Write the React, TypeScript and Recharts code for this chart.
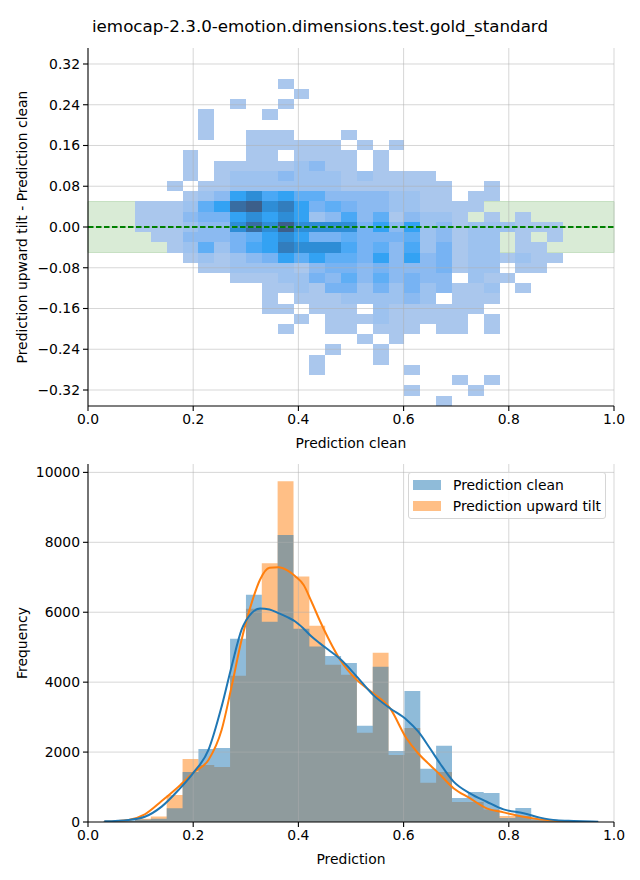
import React from 'react';
import {
  ComposedChart,
  XAxis,
  YAxis,
  ReferenceArea,
  ReferenceLine,
  Line,
  Area,
  Legend,
} from 'recharts';

// ---------------------------------------------------------------------------
// Data
// ---------------------------------------------------------------------------

const TITLE = 'iemocap-2.3.0-emotion.dimensions.test.gold_standard';
const FONT = '"DejaVu Sans", "Liberation Sans", sans-serif';

// histogram bin edges on the prediction axis (shared by both panels)
const binEdges = [
  0.0291, 0.0592, 0.0894, 0.1195, 0.1496, 0.1798, 0.2099, 0.24, 0.2701, 0.3003,
  0.3304, 0.3605, 0.3907, 0.4208, 0.4509, 0.4811, 0.5112, 0.5413, 0.5714, 0.6016,
  0.6317, 0.6618, 0.692, 0.7221, 0.7522, 0.7824, 0.8125, 0.8426, 0.8727, 0.9029,
  0.933, 0.9631,
];

// bin edges on the difference axis (bottom to top)
const diffEdges = [
  -0.351, -0.3309, -0.3109, -0.2908, -0.2708, -0.2507, -0.2306, -0.2106, -0.1905,
  -0.1705, -0.1504, -0.1303, -0.1103, -0.0902, -0.0702, -0.0501, -0.03, -0.01,
  0.0101, 0.0301, 0.0502, 0.0703, 0.0903, 0.1104, 0.1304, 0.1505, 0.1706, 0.1906,
  0.2107, 0.2307, 0.2508, 0.2708, 0.2909,
];

// 2d histogram, top row first. each row: [first column, count levels]
// columns start at binEdges[2]; '.' = empty, 1..9 a b = increasing count
const heatRows: [number, string][][] = [
  [[9, '1']],
  [[10, '1']],
  [[6, '1'], [9, '1']],
  [[4, '1'], [8, '1']],
  [[4, '1']],
  [[4, '1'], [7, '111'], [13, '1']],
  [[7, '111111'], [14, '1'], [16, '1']],
  [[3, '1'], [7, '11'], [10, '1111'], [15, '1']],
  [[3, '1'], [5, '111112311'], [15, '1']],
  [[3, '1'], [5, '12223222121111']],
  [[2, '1'], [4, '112222222'], [13, '1111111'], [22, '1']],
  [[3, '12378675533332211'], [21, '11']],
  [[0, '111257ab89745433221111']],
  [[0, '111344787872363513221'], [22, '1'], [24, '1']],
  [[0, '1112338a8b88884737231222111']],
  [[1, '1133345787445444523122'], [24, '1'], [26, '1']],
  [[2, '125246798886453624122'], [24, '11']],
  [[3, '121234757554737341221211']],
  [[4, '1122221344343334122'], [24, '11']],
  [[6, '11122435353433'], [21, '211']],
  [[8, '112144242423112'], [24, '1']],
  [[8, '1'], [10, '111222232'], [20, '111']],
  [[8, '11'], [11, '111'], [15, '2111111']],
  [[10, '1'], [12, '111211111'], [22, '1']],
  [[9, '1'], [12, '11'], [15, '111'], [19, '11'], [22, '1']],
  [[14, '1'], [16, '1']],
  [[12, '1'], [15, '1']],
  [[11, '1'], [15, '1']],
  [[11, '1'], [17, '1']],
  [[20, '1'], [22, '1']],
  [[17, '1'], [21, '1']],
  [[19, '1']],
];

const levelColors: Record<string, string> = {
  '1': '#aac7ed',
  '2': '#9dc2ef',
  '3': '#8bbaf1',
  '4': '#77b3f3',
  '5': '#5faef5',
  '6': '#4aa8f5',
  '7': '#33a2f3',
  '8': '#2e8dd6',
  '9': '#327dbd',
  a: '#386da2',
  b: '#3c5f8a',
};

// tolerance band and zero line of the top panel
const bandLimits = [-0.05, 0.05];
const zeroLine = [
  { x: 0, y: 0 },
  { x: 1, y: 0 },
];

// 1d histograms, one count per bin
const cleanCounts = [
  20, 40, 70, 90, 390, 1430, 2090, 2120, 5240, 6500, 5730, 8210, 5525, 5020, 4750,
  4550, 2750, 4440, 2030, 3750, 1520, 2180, 690, 860, 830, 115, 400, 90, 50, 20, 12,
];
const tiltCounts = [
  10, 30, 90, 160, 770, 1800, 1630, 1575, 4180, 6100, 7400, 9750, 7020, 5610, 4495,
  4210, 2550, 4840, 1920, 2690, 1120, 1430, 575, 575, 360, 170, 170, 60, 30, 15, 8,
];

// kernel density curves (scaled to counts)
const kdeX = [
  0.031, 0.077, 0.108, 0.14, 0.172, 0.201, 0.229, 0.254, 0.273, 0.292, 0.311, 0.327,
  0.345, 0.362, 0.379, 0.394, 0.41, 0.425, 0.441, 0.457, 0.479, 0.511, 0.542, 0.574,
  0.606, 0.628, 0.65, 0.669, 0.695, 0.726, 0.758, 0.79, 0.828, 0.859, 0.891, 0.923,
  0.97,
];
const kdeClean = [
  20, 60, 150, 440, 915, 1420, 2060, 3300, 4450, 5500, 5975, 6110, 6080, 5975, 5860,
  5735, 5530, 5305, 5110, 4925, 4667, 4160, 3636, 3255, 2920, 2585, 2110, 1680, 1155,
  820, 580, 360, 250, 125, 48, 30, 10,
];
const kdeTilt = [
  10, 60, 220, 600, 1010, 1420, 1775, 2630, 3875, 5210, 6260, 6930, 7270, 7290, 7200,
  7030, 6780, 6300, 5750, 5250, 4650, 4065, 3685, 3255, 2380, 1960, 1630, 1360, 965,
  680, 390, 275, 150, 75, 30, 10, 3,
];

const xTicks = [0, 0.2, 0.4, 0.6, 0.8, 1.0];
const diffTicks = [-0.32, -0.24, -0.16, -0.08, 0, 0.08, 0.16, 0.24, 0.32];
const freqTicks = [0, 2000, 4000, 6000, 8000, 10000];

const legendItems = [
  { name: 'Prediction clean', color: '#8fbbd9' },
  { name: 'Prediction upward tilt', color: '#ffbf86' },
];

// ---------------------------------------------------------------------------
// Helpers
// ---------------------------------------------------------------------------

const BLUE = '#1f77b4';
const ORANGE = '#ff7f0e';
const GRID = { stroke: '#b0b0b0', strokeOpacity: 0.5, strokeWidth: 1 };

const tickStyle = { fill: '#000', fontSize: 13.9, fontFamily: FONT };
const axisStyle = { stroke: '#000', strokeWidth: 1.1 };
const labelStyle = { fill: '#000', fontSize: 13.9, fontFamily: FONT, textAnchor: 'middle' as const };

function formatDiff(v: number): string {
  if (Math.abs(v) < 1e-9) return '0.00';
  return (v < 0 ? '\u2212' : '') + Math.abs(v).toFixed(2);
}

const heatCells = heatRows.flatMap((segments, i) => {
  const row = diffEdges.length - 2 - i;
  return segments.flatMap(([start, levels]) =>
    levels
      .split('')
      .map((lv, j) => ({ col: start + j, row, lv }))
      .filter((c) => c.lv !== '.'),
  );
});

const histClean = binEdges.map((x, k) => ({ x, v: k < cleanCounts.length ? cleanCounts[k] : 0 }));
const histTilt = binEdges.map((x, k) => ({ x, v: k < tiltCounts.length ? tiltCounts[k] : 0 }));
const kdeCleanData = kdeX.map((x, i) => ({ x, v: kdeClean[i] }));
const kdeTiltData = kdeX.map((x, i) => ({ x, v: kdeTilt[i] }));

const HistLegend = () => (
  <div
    style={{
      boxSizing: 'border-box',
      width: 198,
      border: '1px solid #d6d6d6',
      borderRadius: 3,
      background: 'rgba(255,255,255,0.8)',
      padding: '1px 4px 2px 4px',
      fontFamily: FONT,
      fontSize: 13.9,
      color: '#000',
    }}
  >
    {legendItems.map((item) => (
      <div key={item.name} style={{ display: 'flex', alignItems: 'center', height: 21 }}>
        <span style={{ display: 'inline-block', width: 28, height: 10, background: item.color, marginRight: 12 }} />
        <span style={{ whiteSpace: 'nowrap' }}>{item.name}</span>
      </div>
    ))}
  </div>
);

// ---------------------------------------------------------------------------
// Main component
// ---------------------------------------------------------------------------

export default function App() {
  return (
    <div style={{ position: 'absolute', left: 0, top: 0, width: 640, height: 880, background: '#fff' }}>
      <div
        style={{
          position: 'absolute',
          left: 0,
          top: 16,
          width: 640,
          textAlign: 'center',
          fontFamily: FONT,
          fontSize: 16.7,
          lineHeight: '20px',
          color: '#000',
        }}
      >
        {TITLE}
      </div>

      {/* Top: 2d histogram of prediction difference */}
      <div style={{ position: 'absolute', left: 0, top: 0 }}>
        <ComposedChart width={640} height={456} margin={{ top: 48, right: 26, bottom: 0, left: 0 }}>
          <XAxis
            dataKey="x"
            type="number"
            domain={[0, 1]}
            allowDataOverflow
            ticks={xTicks}
            interval={0}
            tickFormatter={(v: number) => v.toFixed(1)}
            height={50}
            tickSize={5}
            tickMargin={3}
            tick={tickStyle}
            axisLine={axisStyle}
            tickLine={axisStyle}
            label={{ value: 'Prediction clean', position: 'insideBottom', offset: 8, style: labelStyle }}
          />
          <YAxis
            dataKey="y"
            type="number"
            domain={[-0.3514, 0.3514]}
            allowDataOverflow
            ticks={diffTicks}
            interval={0}
            tickFormatter={formatDiff}
            width={88}
            tickSize={5}
            tickMargin={3}
            tick={tickStyle}
            axisLine={axisStyle}
            tickLine={axisStyle}
            label={{
              value: 'Prediction upward tilt - Prediction clean',
              angle: -90,
              position: 'insideLeft',
              offset: 22,
              style: labelStyle,
            }}
          />
          <ReferenceArea
            x1={0}
            x2={1}
            y1={bandLimits[0]}
            y2={bandLimits[1]}
            fill="#d9ebd6"
            fillOpacity={1}
            stroke="#c6e0c2"
            strokeWidth={1}
          />
          {heatCells.map((c) => (
            <ReferenceArea
              key={`cell-${c.row}-${c.col}`}
              x1={binEdges[c.col + 2]}
              x2={binEdges[c.col + 3]}
              y1={diffEdges[c.row]}
              y2={diffEdges[c.row + 1]}
              fill={levelColors[c.lv]}
              fillOpacity={1}
              stroke="none"
              shapeRendering="crispEdges"
            />
          ))}
          {xTicks.slice(1).map((t) => (
            <ReferenceLine key={`gx-${t}`} x={t} {...GRID} />
          ))}
          {diffTicks.map((t) => (
            <ReferenceLine key={`gy-${t}`} y={t} {...GRID} />
          ))}
          <Line
            data={zeroLine}
            dataKey="y"
            stroke="#008000"
            strokeWidth={2}
            strokeDasharray="5.5 2.5"
            dot={false}
            activeDot={false}
            isAnimationActive={false}
          />
        </ComposedChart>
      </div>

      {/* Bottom: 1d histograms with kde */}
      <div style={{ position: 'absolute', left: 0, top: 456 }}>
        <ComposedChart width={640} height={424} margin={{ top: 8, right: 26, bottom: 0, left: 0 }}>
          <XAxis
            dataKey="x"
            type="number"
            domain={[0, 1]}
            allowDataOverflow
            ticks={xTicks}
            interval={0}
            tickFormatter={(v: number) => v.toFixed(1)}
            height={58}
            tickSize={5}
            tickMargin={3}
            tick={tickStyle}
            axisLine={axisStyle}
            tickLine={axisStyle}
            label={{ value: 'Prediction', position: 'insideBottom', offset: 16, style: labelStyle }}
          />
          <YAxis
            type="number"
            domain={[0, 10240]}
            allowDataOverflow
            ticks={freqTicks}
            interval={0}
            width={88}
            tickSize={5}
            tickMargin={3}
            tick={tickStyle}
            axisLine={axisStyle}
            tickLine={axisStyle}
            label={{ value: 'Frequency', angle: -90, position: 'insideLeft', offset: 22, style: labelStyle }}
          />
          <Area
            data={histTilt}
            dataKey="v"
            type="stepAfter"
            fill={ORANGE}
            fillOpacity={0.5}
            stroke="none"
            dot={false}
            activeDot={false}
            isAnimationActive={false}
          />
          <Area
            data={histClean}
            dataKey="v"
            type="stepAfter"
            fill={BLUE}
            fillOpacity={0.5}
            stroke="none"
            dot={false}
            activeDot={false}
            isAnimationActive={false}
          />
          {xTicks.slice(1).map((t) => (
            <ReferenceLine key={`bx-${t}`} x={t} {...GRID} />
          ))}
          {freqTicks.slice(1).map((t) => (
            <ReferenceLine key={`by-${t}`} y={t} {...GRID} />
          ))}
          <Line
            data={kdeTiltData}
            dataKey="v"
            type="monotone"
            stroke={ORANGE}
            strokeWidth={2}
            dot={false}
            activeDot={false}
            isAnimationActive={false}
          />
          <Line
            data={kdeCleanData}
            dataKey="v"
            type="monotone"
            stroke={BLUE}
            strokeWidth={2}
            dot={false}
            activeDot={false}
            isAnimationActive={false}
          />
          <Legend
            layout="horizontal"
            verticalAlign="middle"
            align="center"
            content={() => <HistLegend />}
            wrapperStyle={{ left: 408, top: 16, width: 198 }}
          />
        </ComposedChart>
      </div>
    </div>
  );
}
